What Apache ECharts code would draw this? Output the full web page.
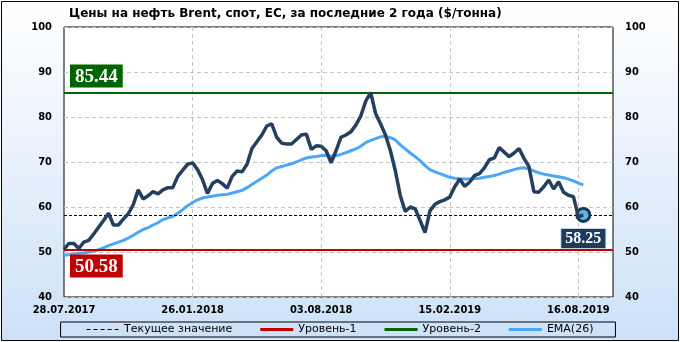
<!DOCTYPE html>
<html><head><meta charset="utf-8">
<script src="https://cdn.jsdelivr.net/npm/echarts@6/dist/echarts.min.js"></script>
<style>html,body{margin:0;padding:0;background:#fff}#c{width:680px;height:342px}</style>
</head><body><div id="c"></div>
<script>
const titleText = 'Цены на нефть Brent, спот, ЕС, за последние 2 года ($/тонна)';
const tickLabels = ['28.07.2017', '26.01.2018', '03.08.2018', '15.02.2019', '16.08.2019'];
const tickStep = 26;
const slotCount = 112;
const price = [50.6,51.9,51.9,50.8,52.2,52.6,54.0,55.5,57.0,58.6,56.0,56.0,57.3,58.5,60.5,63.8,61.8,62.5,63.4,62.9,63.8,64.3,64.3,66.8,68.2,69.5,69.8,68.3,66.1,63.0,65.2,65.9,65.2,64.2,66.8,68.0,67.8,69.5,73.0,74.5,76.0,78.0,78.5,75.5,74.2,74.0,74.0,75.0,76.0,76.2,72.8,73.6,73.5,72.5,69.8,72.5,75.5,76.0,76.7,78.2,80.2,83.5,85.44,80.8,78.5,76.0,72.5,68.0,62.5,59.0,60.0,59.6,57.0,54.3,59.2,60.6,61.2,61.6,62.2,64.5,66.2,64.6,65.5,67.0,67.4,68.7,70.5,70.9,73.2,72.2,71.2,72.0,73.0,70.8,69.0,63.4,63.3,64.5,66.0,64.0,65.6,63.3,62.6,62.3,57.8,58.25];
const ema = [49.3,49.4,49.5,49.7,49.8,50.0,50.2,50.5,50.9,51.4,51.8,52.2,52.6,53.1,53.7,54.4,55.0,55.4,56.0,56.5,57.2,57.6,57.9,58.6,59.4,60.3,61.0,61.6,62.0,62.2,62.4,62.6,62.7,62.8,63.1,63.4,63.7,64.3,65.0,65.7,66.4,67.1,68.0,68.7,69.0,69.3,69.6,70.0,70.5,70.9,71.1,71.2,71.4,71.5,71.3,71.4,71.7,72.1,72.5,72.9,73.5,74.3,74.8,75.2,75.6,75.7,75.4,74.9,73.8,72.9,72.0,71.2,70.3,69.2,68.3,67.8,67.4,67.0,66.6,66.4,66.3,66.2,66.2,66.3,66.4,66.6,66.8,67.0,67.3,67.7,68.0,68.3,68.6,68.7,68.5,68.0,67.6,67.3,67.1,66.9,66.7,66.5,66.2,65.8,65.3,64.9];
const currentValue = 58.25;
const level1 = 50.58;
const level2 = 85.44;
const legendNames = ['Текущее значение', 'Уровень-1', 'Уровень-2', 'EMA(26)'];

const categories = [];
for (let i = 0; i < slotCount; i++) {
  categories.push(i % tickStep === 0 && tickLabels[i / tickStep] ? tickLabels[i / tickStep] : '#' + i);
}
const lineIcon = 'path://M0,0h33v3h-33z';
const dashIcon = 'path://M0,1h4v1h-4zM7,1h4v1h-4zM14,1h4v1h-4zM21,1h4v1h-4zM28,1h4v1h-4zM0,0h0.01v0.01h-0.01zM0,2.99h0.01v0.01h-0.01z';

const axisFont = {fontFamily: 'DejaVu Sans Condensed', fontWeight: 'bold', fontSize: 11, color: '#000'};
const chart = echarts.init(document.getElementById('c'), null, {renderer: 'canvas'});
chart.setOption({
  animation: false,
  graphic: [{type: 'rect', z: -10, silent: true, shape: {x: 1.5, y: 1.5, width: 677, height: 339},
    style: {fill: new echarts.graphic.LinearGradient(0, 0, 0, 1, [{offset: 0, color: '#ffffff'}, {offset: 1, color: '#cde1f7'}]), stroke: '#000', lineWidth: 1}}],
  title: {text: titleText, left: 64, top: 3, textStyle: {fontFamily: 'DejaVu Sans', fontWeight: 'bold', fontSize: 12, color: '#000'}},
  grid: {left: 64, right: 67, top: 27, bottom: 45, show: true, backgroundColor: '#fff', borderColor: '#000', borderWidth: 1},
  legend: {data: [
      {name: legendNames[0], icon: dashIcon},
      {name: legendNames[1], icon: lineIcon},
      {name: legendNames[2], icon: lineIcon},
      {name: legendNames[3], icon: lineIcon}],
    bottom: 5, left: 'center', itemGap: 28, itemWidth: 33, itemHeight: 3,
    borderColor: '#000', borderWidth: 1, padding: [2, 22, 2, 26], borderRadius: 0,
    textStyle: {fontFamily: 'DejaVu Sans', fontSize: 11, color: '#000'}},
  xAxis: {type: 'category', data: categories, boundaryGap: false,
    axisLine: {show: false}, axisTick: {show: false},
    axisLabel: Object.assign({interval: (i) => i % tickStep === 0, margin: 8,
      formatter: (v) => v.charAt(0) === '#' ? '' : v}, axisFont),
    splitLine: {show: true, interval: (i) => i % tickStep === 0 && i > 0, lineStyle: {color: '#c4c4c4', type: [4, 3]}}},
  yAxis: [
    {type: 'value', min: 40, max: 100, interval: 10, axisLine: {show: false}, axisTick: {show: false},
      axisLabel: Object.assign({margin: 12}, axisFont),
      splitLine: {show: true, lineStyle: {color: '#c4c4c4', type: [4, 3]}}},
    {type: 'value', min: 40, max: 100, interval: 10, position: 'right', axisLine: {show: false}, axisTick: {show: false},
      axisLabel: Object.assign({margin: 12}, axisFont), splitLine: {show: false}}
  ],
  series: [
    {name: legendNames[0], type: 'line', data: [], symbol: 'none', z: 3,
      lineStyle: {color: '#000', width: 1, type: [3, 2]}, itemStyle: {color: '#000'},
      markLine: {silent: true, symbol: ['none', 'none'], label: {show: false},
        lineStyle: {color: '#000', width: 1, type: [3, 2]}, data: [{yAxis: currentValue}]}},
    {name: legendNames[1], type: 'line', data: [], symbol: 'none', z: 3,
      lineStyle: {color: '#c00000', width: 3}, itemStyle: {color: '#c00000'},
      markLine: {silent: true, symbol: ['none', 'none'],
        lineStyle: {color: '#c00000', width: 2, type: 'solid'},
        label: {show: true, position: 'insideStartBottom', distance: [6, 5], formatter: level1.toFixed(2),
          backgroundColor: '#c00000', color: '#fff', fontFamily: 'Liberation Serif', fontWeight: 'bold', fontSize: 19, padding: [3, 5, 1, 5]},
        data: [{yAxis: level1}]}},
    {name: legendNames[2], type: 'line', data: [], symbol: 'none', z: 3,
      lineStyle: {color: '#006400', width: 3}, itemStyle: {color: '#006400'},
      markLine: {silent: true, symbol: ['none', 'none'],
        lineStyle: {color: '#006400', width: 2, type: 'solid'},
        label: {show: true, position: 'insideStartTop', distance: [6, 5], formatter: level2.toFixed(2),
          backgroundColor: '#006400', color: '#fff', fontFamily: 'Liberation Serif', fontWeight: 'bold', fontSize: 19, padding: [3, 5, 1, 5]},
        data: [{yAxis: level2}]}},
    {name: legendNames[3], type: 'line', data: ema, symbol: 'none', z: 4,
      lineStyle: {color: '#4aa8f6', width: 3}, itemStyle: {color: '#4aa8f6'}},
    {name: 'Цена', type: 'line', data: price, symbol: 'none', z: 5,
      lineStyle: {color: '#243f60', width: 3.5}, itemStyle: {color: '#243f60'},
      markPoint: {silent: true, symbol: 'circle', symbolSize: 13,
        itemStyle: {color: '#5fb8d6', borderColor: '#1b3556', borderWidth: 3},
        label: {show: true, position: 'bottom', distance: 6, formatter: currentValue.toFixed(2),
          backgroundColor: '#1f3a5c', borderColor: '#c8d4e0', borderWidth: 1, color: '#fff',
          fontFamily: 'Liberation Serif', fontWeight: 'bold', fontSize: 16, padding: [2, 4, 1, 4]},
        data: [{coord: [price.length - 1, currentValue]}]}}
  ]
});
</script></body></html>
